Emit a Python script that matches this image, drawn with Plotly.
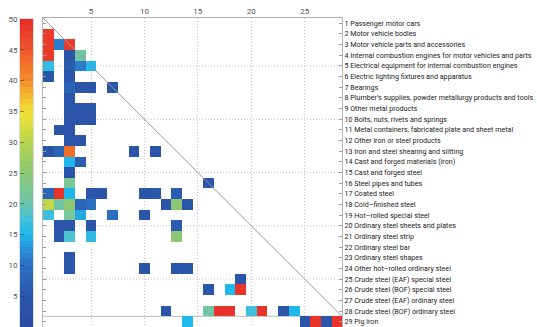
import plotly.graph_objects as go

# ---- data -------------------------------------------------------------
sectors = [
    "Passenger motor cars",
    "Motor vehicle bodies",
    "Motor vehicle parts and accessories",
    "Internal combustion engines for motor vehicles and parts",
    "Electrical equipment for internal combustion engines",
    "Electric lighting fixtures and apparatus",
    "Bearings",
    "Plumber’s supplies, powder metallurgy products and tools",
    "Other metal products",
    "Bolts, nuts, rivets and springs",
    "Metal containers, fabricated plate and sheet metal",
    "Other iron or steel products",
    "Iron and steel shearing and slitting",
    "Cast and forged materials (iron)",
    "Cast and forged steel",
    "Steel pipes and tubes",
    "Coated steel",
    "Cold–finished steel",
    "Hot–rolled special steel",
    "Ordinary steel sheets and plates",
    "Ordinary steel strip",
    "Ordinary steel bar",
    "Ordinary steel shapes",
    "Other hot–rolled ordinary steel",
    "Crude steel (EAF) special steel",
    "Crude steel (BOF) special steel",
    "Crude steel (EAF) ordinary steel",
    "Crude steel (BOF) ordinary steel",
    "Pig iron",
]

# non-empty cells of the (lower-triangular) matrix: row index, column index, value
cell_rows = [2, 3, 3, 3, 4, 4, 4, 5, 5, 5, 5, 6, 6, 7, 7, 7, 7, 8, 9, 9, 9,
             10, 10, 10, 11, 11, 12, 12, 13, 13, 13, 13, 13, 14, 14, 15, 16, 16,
             17, 17, 17, 17, 17, 17, 17, 17,
             18, 18, 18, 18, 18, 18, 18, 18,
             19, 19, 19, 19, 19,
             20, 20, 20, 20,
             21, 21, 21, 21,
             23, 24, 24, 24, 24, 25, 26, 26, 26,
             28, 28, 28, 28, 28, 28, 28, 28,
             29, 29, 29, 29, 29]
cell_cols = [1, 1, 2, 3, 1, 3, 4, 1, 3, 4, 5, 1, 3, 3, 4, 5, 7, 3, 3, 4, 5,
             3, 4, 5, 2, 3, 3, 4, 1, 2, 3, 9, 11, 3, 4, 3, 3, 16,
             1, 2, 3, 5, 6, 10, 11, 13,
             1, 2, 3, 4, 5, 12, 13, 14,
             1, 3, 4, 7, 10,
             2, 3, 5, 13,
             2, 3, 5, 13,
             3, 3, 10, 13, 14, 19, 16, 18, 19,
             12, 16, 17, 18, 20, 21, 23, 24,
             14, 25, 26, 27, 28]
cell_vals = [48, 48, 11, 48, 48, 4, 21, 16, 6, 11, 15, 4, 4, 8, 4, 4, 4, 4, 5, 4, 4,
             4, 4, 4, 4, 4, 4, 4, 4, 8, 43, 4, 4, 15, 6, 3, 22, 4,
             8, 49, 15, 4, 4, 4, 5, 6,
             31, 21, 25, 8, 10, 4, 25, 4,
             17, 22, 14, 10, 4,
             4, 4, 4, 6,
             4, 18, 16, 25,
             4, 4, 4, 4, 5, 4, 4, 15, 49,
             4, 21, 49, 49, 17, 49, 4, 15,
             15, 4, 49, 4, 49]

x_ticks = [5, 10, 15, 20, 25]
scale_ticks = [0, 5, 10, 15, 20, 25, 30, 35, 40, 45, 50]
scale_levels = [i + 0.5 for i in range(50)]   # 50 colour steps of the scale bar

# ---- build matrix -----------------------------------------------------
n = len(sectors)
idx = list(range(1, n + 1))
z = [[None] * n for _ in range(n)]
for r, c, v in zip(cell_rows, cell_cols, cell_vals):
    z[r - 1][c - 1] = v

colorscale = [
    [0.00, "#2a4b9e"],
    [0.10, "#2a57ab"],
    [0.20, "#2b6fc0"],
    [0.25, "#2a8fd8"],
    [0.30, "#1eb8ea"],
    [0.35, "#45c1da"],
    [0.40, "#6cc4ae"],
    [0.50, "#8cc874"],
    [0.60, "#b6d44e"],
    [0.66, "#dde03e"],
    [0.70, "#efdf32"],
    [0.76, "#f4b02e"],
    [0.80, "#f58c2a"],
    [0.90, "#ee582a"],
    [1.00, "#e8282a"],
]

FONT = "Roboto, Liberation Sans, Arial, sans-serif"
W, H = 537, 327
L_PLOT, R_MARGIN, T_MARGIN = 43, 195, 18
region_w = W - R_MARGIN            # plotting region starts at x=0 (margin l=0)
region_h = H - T_MARGIN

fig = go.Figure()
fig.add_trace(go.Heatmap(
    x=idx, y=idx, z=z, zmin=0, zmax=50,
    colorscale=colorscale, showscale=False, hoverongaps=False,
    xaxis="x", yaxis="y",
))
# scale bar drawn as its own one-column heatmap
fig.add_trace(go.Heatmap(
    x=[0], y=scale_levels, z=[[v] for v in scale_levels], zmin=0, zmax=50,
    colorscale=colorscale, showscale=False, hoverinfo="y",
    xaxis="x2", yaxis="y2",
))

# horizontal dotted grid lines at every fifth row
for v in x_ticks:
    fig.add_shape(type="line", xref="x", yref="y", x0=0.5, x1=n - 0.5, y0=v, y1=v,
                  line=dict(color="#c4c4c4", width=1, dash="1px,2px"), layer="below")
# lower edge of the square area
fig.add_shape(type="line", xref="x", yref="y", x0=0.5, x1=n - 0.5, y0=n - 0.5, y1=n - 0.5,
              line=dict(color="#bdbdbd", width=1), layer="below")
# diagonal
fig.add_shape(type="line", xref="x", yref="y", x0=0.5, y0=0.5, x1=n - 0.5, y1=n - 0.5,
              line=dict(color="#9a9a9a", width=1), layer="above")

fig.update_layout(
    width=W, height=H, autosize=False,
    margin=dict(l=0, r=R_MARGIN, t=T_MARGIN, b=0, pad=0),
    paper_bgcolor="white", plot_bgcolor="white",
    showlegend=False,
    font=dict(family=FONT, size=8, color="#333"),
    xaxis=dict(
        domain=[L_PLOT / region_w, 1],
        range=[0.5, n - 0.5], side="top", anchor="y",
        tickvals=x_ticks, ticks="", showgrid=True, gridcolor="#c4c4c4", griddash="1px,2px",
        gridwidth=1, zeroline=False, showline=True, linecolor="#b0b0b0", linewidth=1,
        tickfont=dict(family=FONT, size=8, color="#555"),
        automargin=False,
    ),
    yaxis=dict(
        domain=[0, 1], anchor="x",
        range=[n + 0.5, 0.5], side="right",
        tickvals=idx, ticktext=[f"{i} {s}" for i, s in zip(idx, sectors)],
        ticks="inside", ticklen=3, tickcolor="#9a9a9a", tickwidth=1,
        showgrid=False, zeroline=False, showline=True, linecolor="#b8b8b8", linewidth=1,
        mirror="ticks",
        tickfont=dict(family=FONT, size=7.15, color="#222"),
        automargin=False,
    ),
    xaxis2=dict(
        domain=[20 / region_w, 33.3 / region_w], anchor="y2",
        range=[-0.5, 0.5], showticklabels=False, ticks="", showgrid=False, zeroline=False,
        showline=True, linecolor="#dddddd", mirror=True,
    ),
    yaxis2=dict(
        domain=[0, (H - 19) / region_h], anchor="x2",
        range=[0, 50], side="left",
        tickvals=scale_ticks, ticks="inside", ticklen=4, tickcolor="rgba(40,40,40,0.45)",
        showgrid=False, zeroline=False, showline=True, linecolor="#dddddd", mirror=True,
        tickfont=dict(family=FONT, size=8, color="#555"),
        automargin=False,
    ),
)

fig.write_html(
    "out.html",
    config={"displayModeBar": False},
    post_script="document.body.style.margin='0';document.body.style.overflow='hidden';",
)
